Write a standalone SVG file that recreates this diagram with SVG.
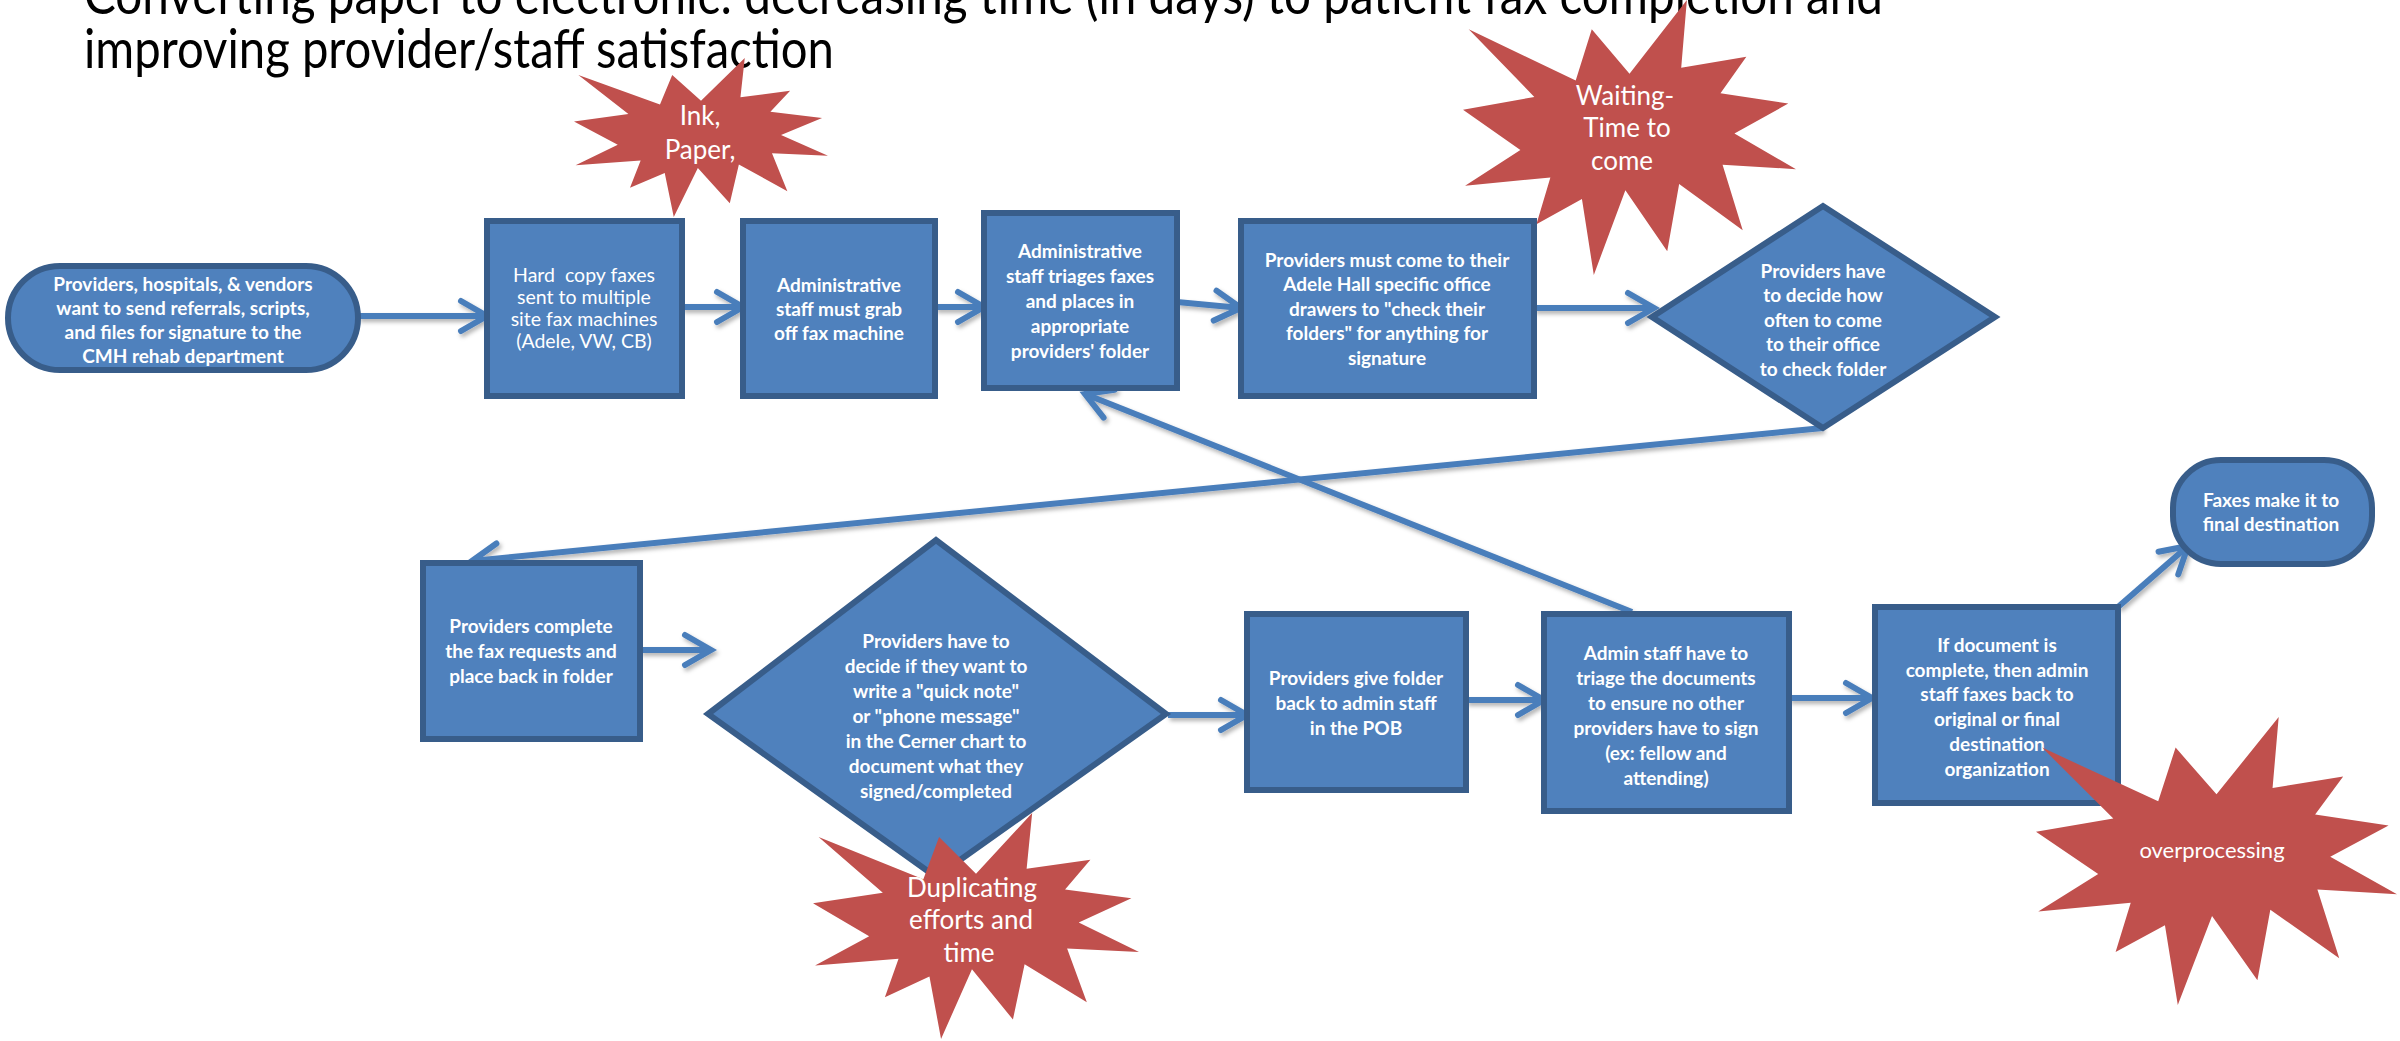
<svg xmlns="http://www.w3.org/2000/svg" width="2400" height="1041" viewBox="0 0 2400 1041">
<defs>
<style>
.title{font-family:Lato,"Liberation Sans",sans-serif;font-size:54px;fill:#000}
.box{fill:#4f81bd;stroke:#385d8a;stroke-width:6}
.t{font-family:Lato,"Liberation Sans",sans-serif;font-weight:bold;font-size:19px;fill:#fff;text-anchor:middle;dominant-baseline:central}
.tr{font-family:Lato,"Liberation Sans",sans-serif;font-size:19.5px;fill:#fff;text-anchor:middle;dominant-baseline:central}
.star{fill:#c0504d}
.st{font-family:Lato,"Liberation Sans",sans-serif;font-size:26px;fill:#fff;text-anchor:middle;dominant-baseline:central}
.conn{fill:none;stroke:#4a7ebb;stroke-width:6;marker-end:url(#arr)}
</style>
<marker id="arr" markerUnits="userSpaceOnUse" markerWidth="40" markerHeight="40" viewBox="-30 -20 40 40" refX="0" refY="0" orient="auto" overflow="visible">
<path d="M-26,-15 L0,0 L-26,15" fill="none" stroke="#4a7ebb" stroke-width="6" stroke-linecap="round" stroke-linejoin="miter"/>
</marker>
<filter id="sh" filterUnits="userSpaceOnUse" x="0" y="0" width="2400" height="1041">
<feDropShadow dx="2" dy="3" stdDeviation="2" flood-color="#000" flood-opacity="0.3"/>
</filter>
<path id="seal" d="M50,26.85 L67.23,0 L65.53,24.65 L85.09,20.64 L77.32,33.87 L97.67,37.67 L81.51,48.5 L100,61.53 L77.95,59.92 L84,83.77 L64.91,66.93 L61.33,91.38 L48.76,69.14 L39.28,100 L35.72,72.35 L22.05,81.56 L26.24,64.52 L0.625,67.53 L17.23,54.51 L0,39.88 L21.42,35.26 L1.71,10.63 L33.85,29.26 L38.67,10.63 Z"/>
</defs>
<rect width="2400" height="1041" fill="#fff"/>

<g id="title">
<text class="title" x="84" y="14" textLength="1799" lengthAdjust="spacingAndGlyphs">Converting paper to electronic: decreasing time (in days) to patient fax completion and</text>
<text class="title" x="84" y="68" textLength="750" lengthAdjust="spacingAndGlyphs">improving provider/staff satisfaction</text>
</g>

<g id="star-waiting">
<use href="#seal" class="star" transform="translate(1463,0) scale(3.33,2.75)"/>
<text class="st" x="1625" y="95">Waiting-</text>
<text class="st" x="1627" y="127">Time to</text>
<text class="st" x="1622" y="160">come</text>
</g>

<g id="star-ink">
<use href="#seal" class="star" transform="translate(574,58) scale(2.54,1.59)"/>
<text class="st" x="700" y="115">Ink,</text>
<text class="st" x="700" y="149">Paper,</text>
</g>

<g id="connectors" filter="url(#sh)">
<path class="conn" d="M358,316 L487,316"/>
<path class="conn" d="M682,307 L743,307"/>
<path class="conn" d="M935,307 L984,307"/>
<path class="conn" d="M1177,302 L1241,308"/>
<path class="conn" d="M1534,308 L1654,308"/>
<path class="conn" d="M1823,428 L472,561"/>
<path class="conn" d="M640,650 L711,650"/>
<path class="conn" d="M1168,715 L1247,715"/>
<path class="conn" d="M1466,700 L1544,700"/>
<path class="conn" d="M1789,698 L1872,698"/>
<path class="conn" d="M1632,612 L1085,394"/>
<path class="conn" d="M2118,607 L2188,546"/>
</g>

<g id="n-start">
<rect class="box" x="8" y="266" width="350" height="104" rx="52"/>
<text class="t" x="183" y="283">Providers, hospitals, &amp; vendors</text>
<text class="t" x="183" y="307">want to send referrals, scripts,</text>
<text class="t" x="183" y="331">and files for signature to the</text>
<text class="t" x="183" y="355">CMH rehab department</text>
</g>

<g id="n-hardcopy">
<rect class="box" x="487" y="221" width="195" height="175"/>
<text class="tr" x="584" y="274" xml:space="preserve">Hard  copy faxes</text>
<text class="tr" x="584" y="296">sent to multiple</text>
<text class="tr" x="584" y="318">site fax machines</text>
<text class="tr" x="584" y="340">(Adele, VW, CB)</text>
</g>

<g id="n-grab">
<rect class="box" x="743" y="221" width="192" height="175"/>
<text class="t" x="839" y="284">Administrative</text>
<text class="t" x="839" y="308">staff must grab</text>
<text class="t" x="839" y="332">off fax machine</text>
</g>

<g id="n-triage">
<rect class="box" x="984" y="213" width="193" height="175"/>
<text class="t" x="1080" y="250">Administrative</text>
<text class="t" x="1080" y="275">staff triages faxes</text>
<text class="t" x="1080" y="300">and places in</text>
<text class="t" x="1080" y="325">appropriate</text>
<text class="t" x="1080" y="350">providers' folder</text>
</g>

<g id="n-come">
<rect class="box" x="1241" y="221" width="293" height="175"/>
<text class="t" x="1387" y="259">Providers must come to their</text>
<text class="t" x="1387" y="283.5">Adele Hall specific office</text>
<text class="t" x="1387" y="308">drawers to "check their</text>
<text class="t" x="1387" y="332.5">folders" for anything for</text>
<text class="t" x="1387" y="357">signature</text>
</g>

<g id="n-decide-often">
<polygon class="box" points="1652,317 1823,206 1995,317 1823,428"/>
<text class="t" x="1823" y="270">Providers have</text>
<text class="t" x="1823" y="294.5">to decide how</text>
<text class="t" x="1823" y="319">often to come</text>
<text class="t" x="1823" y="343.5">to their office</text>
<text class="t" x="1823" y="368">to check folder</text>
</g>

<g id="n-complete">
<rect class="box" x="423" y="563" width="217" height="176"/>
<text class="t" x="531" y="625">Providers complete</text>
<text class="t" x="531" y="650">the fax requests and</text>
<text class="t" x="531" y="675">place back in folder</text>
</g>

<g id="n-decide-note">
<polygon class="box" points="708,714 936,540 1166,714 936,877"/>
<text class="t" x="936" y="640">Providers have to</text>
<text class="t" x="936" y="665">decide if they want to</text>
<text class="t" x="936" y="690">write a "quick note"</text>
<text class="t" x="936" y="715">or "phone message"</text>
<text class="t" x="936" y="740">in the Cerner chart to</text>
<text class="t" x="936" y="765">document what they</text>
<text class="t" x="936" y="790">signed/completed</text>
</g>

<g id="n-give">
<rect class="box" x="1247" y="614" width="219" height="176"/>
<text class="t" x="1356" y="677">Providers give folder</text>
<text class="t" x="1356" y="702">back to admin staff</text>
<text class="t" x="1356" y="727">in the POB</text>
</g>

<g id="n-admin-triage">
<rect class="box" x="1544" y="614" width="245" height="197"/>
<text class="t" x="1666" y="652">Admin staff have to</text>
<text class="t" x="1666" y="677">triage the documents</text>
<text class="t" x="1666" y="702">to ensure no other</text>
<text class="t" x="1666" y="727">providers have to sign</text>
<text class="t" x="1666" y="752">(ex: fellow and</text>
<text class="t" x="1666" y="777">attending)</text>
</g>

<g id="n-faxback">
<rect class="box" x="1875" y="607" width="243" height="196"/>
<text class="t" x="1997" y="644">If document is</text>
<text class="t" x="1997" y="669">complete, then admin</text>
<text class="t" x="1997" y="693">staff faxes back to</text>
<text class="t" x="1997" y="718">original or final</text>
<text class="t" x="1997" y="743">destination</text>
<text class="t" x="1997" y="768">organization</text>
</g>

<g id="n-final">
<rect class="box" x="2173" y="460" width="199" height="104" rx="48"/>
<text class="t" x="2271" y="499">Faxes make it to</text>
<text class="t" x="2271" y="523">final destination</text>
</g>

<g id="star-duplicating">
<use href="#seal" class="star" transform="translate(813,813) scale(3.26,2.26)"/>
<text class="st" x="972" y="887">Duplicating</text>
<text class="st" x="971" y="919">efforts and</text>
<text class="st" x="969" y="952">time</text>
</g>

<g id="star-overprocessing">
<use href="#seal" class="star" transform="translate(2036,717) scale(3.61,2.88)"/>
<text class="st" x="2212" y="849" style="font-size:22px">overprocessing</text>
</g>
</svg>
